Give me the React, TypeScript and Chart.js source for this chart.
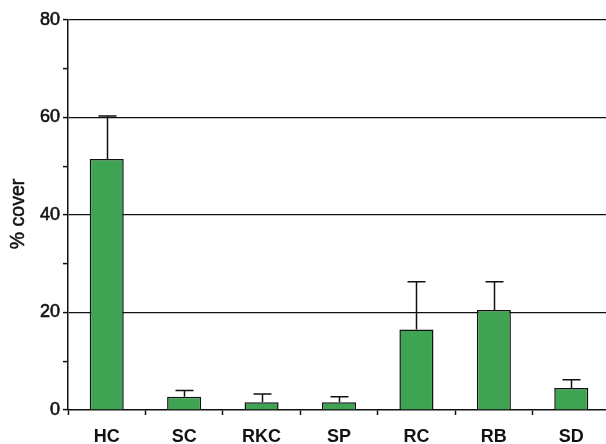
import React, { useEffect, useRef } from "react";
import { Chart, registerables } from "chart.js";

Chart.register(...registerables);

// Benthic cover by category (mean and upper standard error)
const categories = ["HC", "SC", "RKC", "SP", "RC", "RB", "SD"];
const meanCover = [51.5, 2.7, 1.6, 1.6, 16.5, 20.5, 4.5];
const coverError = [8.8, 1.3, 1.7, 1.1, 9.8, 5.8, 1.7];
const yTickValues = [0, 20, 40, 60, 80];
const yAxisTitle = "% cover";

const FONT = "'Liberation Sans', Arial, Helvetica, sans-serif";
const BAR_GREEN = "rgb(62, 163, 82)";
const INK = "#111";

// Upper-only error bars with a short cap, drawn above each bar.
const errorBarPlugin = {
  id: "errorBars",
  afterDatasetsDraw(chart: any) {
    const { ctx } = chart;
    const yScale = chart.scales.y;
    const meta = chart.getDatasetMeta(0);
    ctx.save();
    ctx.strokeStyle = INK;
    ctx.lineWidth = 1.5;
    meta.data.forEach((bar: any, i: number) => {
      const top = yScale.getPixelForValue(meanCover[i]);
      const errTop = yScale.getPixelForValue(meanCover[i] + coverError[i]);
      const x = Math.round(bar.x) + 0.5;
      ctx.beginPath();
      ctx.moveTo(x, top);
      ctx.lineTo(x, errTop);
      ctx.moveTo(x - 9, errTop);
      ctx.lineTo(x + 9, errTop);
      ctx.stroke();
    });
    ctx.restore();
  },
};

// Rotated axis title placed beside the y tick labels.
const yTitlePlugin = {
  id: "yTitle",
  afterDraw(chart: any) {
    const { ctx } = chart;
    ctx.save();
    ctx.translate(18.5, 214);
    ctx.rotate(-Math.PI / 2);
    ctx.font = `19.5px ${FONT}`;
    ctx.fillStyle = INK;
    ctx.strokeStyle = INK;
    ctx.lineWidth = 0.5;
    ctx.textAlign = "center";
    ctx.textBaseline = "middle";
    ctx.fillText(yAxisTitle, 0, 0);
    ctx.strokeText(yAxisTitle, 0, 0);
    ctx.restore();
  },
};

export default function App() {
  const canvasRef = useRef<HTMLCanvasElement | null>(null);

  useEffect(() => {
    const canvas = canvasRef.current;
    if (!canvas) return;
    const chart = new Chart(canvas, {
      type: "bar",
      data: {
        labels: categories,
        datasets: [
          {
            data: meanCover,
            backgroundColor: BAR_GREEN,
            borderColor: INK,
            borderWidth: 1.5,
            barPercentage: 0.44,
            categoryPercentage: 1,
          },
        ],
      },
      options: {
        responsive: false,
        animation: false,
        devicePixelRatio: 1,
        layout: { padding: { top: 20, left: 0, right: 0, bottom: 0 } },
        plugins: {
          legend: { display: false },
          tooltip: { enabled: false },
        },
        scales: {
          x: {
            offset: true,
            grid: {
              offset: true,
              drawOnChartArea: false,
              drawTicks: true,
              tickLength: 5,
              tickColor: INK,
              tickWidth: 1.5,
            },
            border: { color: INK, width: 1.5 },
            ticks: {
              color: INK,
              padding: 11,
              font: { family: FONT, size: 18, weight: "bold" },
            },
            afterFit(scale: any) {
              scale.height = 34;
            },
          },
          y: {
            min: 0,
            max: 80,
            grid: {
              color: (ctx: any) =>
                ctx.tick && yTickValues.includes(ctx.tick.value) && ctx.tick.value !== 0
                  ? INK
                  : "rgba(0,0,0,0)",
              lineWidth: 1.2,
              drawTicks: true,
              tickLength: 5,
              tickColor: INK,
              tickWidth: 1.5,
            },
            border: { color: INK, width: 1.5 },
            ticks: {
              stepSize: 10,
              padding: 3,
              color: INK,
              textStrokeColor: INK,
              textStrokeWidth: 0.6,
              font: { family: FONT, size: 18 },
              callback: (value: any) =>
                yTickValues.includes(Number(value)) ? String(value) : "",
            },
            afterFit(scale: any) {
              scale.width = 68;
            },
          },
        },
      },
      plugins: [errorBarPlugin, yTitlePlugin],
    });
    return () => chart.destroy();
  }, []);

  return (
    <div
      style={{
        position: "fixed",
        left: 0,
        top: 0,
        width: 606,
        height: 444,
        overflow: "hidden",
        background: "#fff",
      }}
    >
      <canvas
        ref={canvasRef}
        width={610}
        height={444}
        style={{ width: 610, height: 444, display: "block" }}
      />
    </div>
  );
}
